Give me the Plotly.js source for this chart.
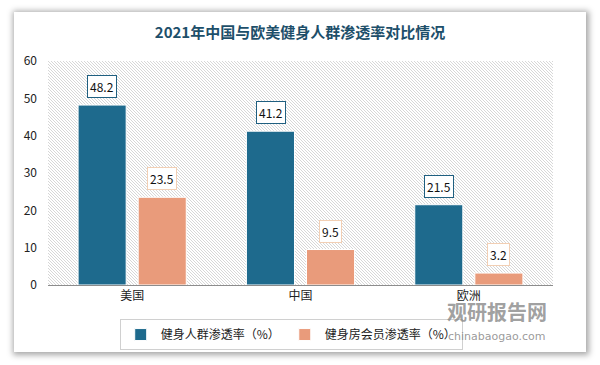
<!DOCTYPE html>
<html><head><meta charset="utf-8">
<script src="https://cdn.plot.ly/plotly-3.0.1.min.js"></script>
<style>
html,body{margin:0;padding:0;background:#fff;}
#wrap{position:relative;width:600px;height:365px;overflow:hidden;}
#card{position:absolute;left:14px;top:12px;width:572px;height:340px;background:#fff;box-shadow:1px 1px 6px 2px rgba(0,0,0,0.35);}
#chart{position:absolute;left:0;top:0;width:600px;height:365px;}
</style></head>
<body><div id="wrap"><div id="card"></div><div id="chart"></div></div>
<script>
const categories = ['美国', '中国', '欧洲'];
const seriesNames = ['健身人群渗透率（%）', '健身房会员渗透率（%）'];
const fitnessPop = [48.2, 41.2, 21.5];
const gymMember = [23.5, 9.5, 3.2];
const yTicks = [0, 10, 20, 30, 40, 50, 60];

const blue = '#1e6a8d', orange = '#e99b7b';
const font = '"Noto Sans CJK SC", "Noto Sans", sans-serif';

const hatch = 'data:image/svg+xml;utf8,' + encodeURIComponent(
 '<svg xmlns="http://www.w3.org/2000/svg" width="505" height="224">' +
 '<defs><pattern id="p" width="3" height="3" patternUnits="userSpaceOnUse">' +
 '<path d="M-1,-1 L4,4 M-1,2 L1,4 M2,-1 L4,1" stroke="#d3d3d3" stroke-width="0.9"/></pattern></defs>' +
 '<rect width="505" height="224" fill="url(#p)"/></svg>');

const traces = [
 {type:'bar', name:seriesNames[0], x:categories, y:fitnessPop,
  marker:{color:blue, line:{color:'#ffffff', width:1}}, hoverinfo:'none'},
 {type:'bar', name:seriesNames[1], x:categories, y:gymMember,
  marker:{color:orange, line:{color:'#ffffff', width:1}}, hoverinfo:'none'}
];

const annotations = [];
categories.forEach((c, i) => {
  annotations.push({x:c, y:fitnessPop[i], xref:'x', yref:'y', xshift:-30, yshift:7,
    yanchor:'bottom', text:fitnessPop[i].toFixed(1), showarrow:false,
    font:{family:font, size:12, color:'#111'}, bgcolor:'#fff', bordercolor:'#1f5f80', borderwidth:1, borderpad:2});
  annotations.push({x:c, y:gymMember[i], xref:'x', yref:'y', xshift:30, yshift:7,
    yanchor:'bottom', text:gymMember[i].toFixed(1), showarrow:false,
    font:{family:font, size:12, color:'#111'}, bgcolor:'#fff', bordercolor:'#f2cfb4', borderwidth:1, borderpad:2});
});
annotations.push({xref:'paper', yref:'paper', x:0.787, y:-0.045, xanchor:'left', yanchor:'top',
  text:'<b>观研报告网</b>', showarrow:false, font:{family:font, size:20, color:'rgba(135,135,135,0.8)'}});
annotations.push({xref:'paper', yref:'paper', x:0.889, y:-0.19, xanchor:'center', yanchor:'top',
  text:'chinabaogao.com', showarrow:false, font:{family:'"DejaVu Sans", sans-serif', size:11, color:'rgba(135,135,135,0.85)'}});

const layout = {
  width:600, height:365,
  margin:{l:48, r:47, t:61, b:80},
  paper_bgcolor:'rgba(0,0,0,0)', plot_bgcolor:'rgba(0,0,0,0)',
  title:{text:'<b>2021年中国与欧美健身人群渗透率对比情况</b>', x:0.5, xanchor:'center', y:0.91, yanchor:'middle',
    font:{family:'"Noto Sans CJK SC", serif', size:15, color:'#1d4f6a'}},
  barmode:'group', bargap:0.286, bargroupgap:0.2,
  xaxis:{type:'category', showgrid:false, showline:true, linecolor:'#8c8c8c', linewidth:1,
    ticks:'', tickfont:{family:font, size:12, color:'#222'}, fixedrange:true},
  yaxis:{range:[0,60], tickvals:yTicks, showgrid:false, zeroline:false, showline:false, ticks:'',
    ticklabelstandoff:10, tickfont:{family:font, size:12, color:'#222'}, fixedrange:true},
  legend:{orientation:'h', x:0.142, xanchor:'left', y:-0.152, yanchor:'top',
    bordercolor:'#d0d0d0', borderwidth:1, bgcolor:'rgba(255,255,255,0.6)',
    font:{family:font, size:12, color:'#222'}, itemwidth:30, tracegroupgap:0},
  images:[{source:hatch, xref:'paper', yref:'paper', x:0, y:1, sizex:1, sizey:1,
    sizing:'stretch', xanchor:'left', yanchor:'top', layer:'below'}],
  annotations:annotations,
  showlegend:true
};
Plotly.newPlot('chart', traces, layout, {displayModeBar:false, staticPlot:true});
</script></body></html>
